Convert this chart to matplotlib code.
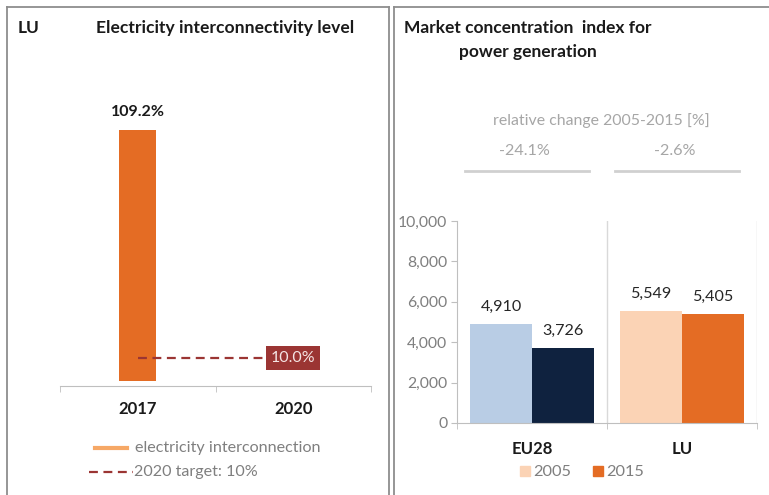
import matplotlib.pyplot as plt
from matplotlib.lines import Line2D
from matplotlib.patches import Rectangle

W, H = 769, 495

# left panel: interconnectivity
years = ["2017", "2020"]
interconnection = [109.2]
target = 10.0

# right panel: market concentration
regions = ["EU28", "LU"]
hhi_2005 = [4910, 5549]
hhi_2015 = [3726, 5405]
yticks = [0, 2000, 4000, 6000, 8000, 10000]

FONT = "Lato"
DARK = "#1A1A1A"
ORANGE = "#E46C24"
LIGHT_ORANGE = "#F6A866"
TARGET_RED = "#9B3533"


def px(x, y):
    return (x / W, 1 - y / H)


plt.rcParams["font.family"] = [FONT, "DejaVu Sans"]

fig = plt.figure(figsize=(W / 100, H / 100), dpi=100)

# panel frames
frame = dict(color="#8E8E8E", lw=1.3)
fig.add_artist(Line2D([7 / W, 7 / W], [0, 1 - 7 / H], **frame))
fig.add_artist(Line2D([7 / W, 389 / W], [1 - 7 / H, 1 - 7 / H], **frame))
fig.add_artist(Line2D([389 / W, 389 / W], [0, 1 - 7 / H], **frame))
fig.add_artist(Line2D([394 / W, 394 / W], [0, 1 - 7 / H], **frame))
fig.add_artist(Line2D([394 / W, 1], [1 - 7 / H, 1 - 7 / H], **frame))

# ---- left chart ----
ppu = 251 / 109.2
ax1 = fig.add_axes([60 / W, 1 - 386 / H, 311 / W, 281 / H])
ax1.set_xlim(-0.5, 1.5)
ax1.set_ylim(-5 / ppu, (381 - 105) / ppu)
ax1.bar([0], interconnection, width=0.24, color=ORANGE, zorder=2)
for i, v in enumerate(interconnection):
    ax1.annotate(f"{v:.1f}%", (i, v), xytext=(0, 8), textcoords="offset points",
                 ha="center", va="bottom", fontsize=11.5, fontweight="bold", color=DARK)
ax1.plot([0, 1], [target, target], color=TARGET_RED, lw=1.6, ls=(0, (4, 2.5)), zorder=3)
ax1.text(1, target, f"{target:.1f}%", ha="center", va="center", fontsize=11.5,
         color="#F4E4E3", zorder=4,
         bbox=dict(boxstyle="square,pad=0.3", fc=TARGET_RED, ec="none"))
for s in ["top", "right", "left"]:
    ax1.spines[s].set_visible(False)
ax1.spines["bottom"].set_color("#BFBFBF")
ax1.set_yticks([])
ax1.set_xticks([0, 1])
ax1.set_xticklabels(years, fontsize=12, fontweight="bold", color=DARK)
ax1.tick_params(axis="x", length=0, pad=11)
ax1.set_xticks([-0.5, 0.5, 1.5], minor=True)
ax1.tick_params(axis="x", which="minor", length=4, color="#BFBFBF", direction="out")

fig.text(*px(18, 28), "LU", fontsize=12.5, fontweight="bold", color=DARK, va="center")
fig.text(*px(96, 28), "Electricity interconnectivity level", fontsize=12.6,
         fontweight="bold", color=DARK, va="center")

# left legend
fig.add_artist(Line2D([95 / W, 127 / W], [1 - 448 / H] * 2, color=LIGHT_ORANGE, lw=3))
fig.text(*px(135, 448), "electricity interconnection", fontsize=11.6, color="#7F7F7F", va="center")
fig.add_artist(Line2D([89 / W, 133 / W], [1 - 472 / H] * 2, color=TARGET_RED, lw=1.6,
                      ls=(0, (4, 2.5))))
fig.text(*px(134, 472), "2020 target: 10%", fontsize=11.6, color="#7F7F7F", va="center")

# ---- right chart ----
ax2 = fig.add_axes([457 / W, 1 - 423 / H, 300 / W, 202 / H])
ax2.set_xlim(-0.5, 1.5)
ax2.set_ylim(0, 10000)
bw = 0.413
xs = list(range(len(regions)))
cols_2005 = ["#B9CDE5", "#FBD3B5"]
cols_2015 = ["#0F223F", ORANGE]
ax2.bar([x - bw / 2 for x in xs], hhi_2005, width=bw, color=cols_2005, zorder=2)
ax2.bar([x + bw / 2 for x in xs], hhi_2015, width=bw, color=cols_2015, zorder=2)
for x, a, b in zip(xs, hhi_2005, hhi_2015):
    ax2.annotate(f"{a:,}", (x - bw / 2, a), xytext=(0, 7), textcoords="offset points",
                 ha="center", va="bottom", fontsize=11.6, color="#262626")
    ax2.annotate(f"{b:,}", (x + bw / 2, b), xytext=(0, 7), textcoords="offset points",
                 ha="center", va="bottom", fontsize=11.6, color="#262626")
for xv in [0.5, 1.5]:
    ax2.axvline(xv, color="#D9D9D9", lw=1, zorder=1)
for s in ["top", "right"]:
    ax2.spines[s].set_visible(False)
ax2.spines["left"].set_color("#BFBFBF")
ax2.spines["bottom"].set_color("#BFBFBF")
ax2.set_yticks(yticks)
ax2.set_yticklabels([f"{t:,}" for t in yticks], fontsize=11.3, color="#7F7F7F")
ax2.tick_params(axis="y", length=4, color="#BFBFBF", pad=3)
ax2.set_xticks(xs)
ax2.set_xticklabels(regions, fontsize=12, fontweight="bold", color=DARK)
ax2.tick_params(axis="x", length=0, pad=13)
ax2.set_xticks([-0.5, 0.5, 1.5], minor=True)
ax2.tick_params(axis="x", which="minor", length=4, color="#BFBFBF")

fig.text(*px(404, 28), "Market concentration  index for", fontsize=12.5,
         fontweight="bold", color=DARK, va="center")
fig.text(*px(459, 52), "power generation", fontsize=12.5, fontweight="bold",
         color=DARK, va="center")

# relative change header
fig.text(*px(601, 121), "relative change 2005-2015 [%]", fontsize=11.4, color="#A6A6A6",
         ha="center", va="center")
changes = [(b - a) / a * 100 for a, b in zip(hhi_2005, hhi_2015)]
for x, c in zip(xs, changes):
    ax2.text(x - 0.05, 1.0 + 70 / 202, f"{c:.1f}%", transform=ax2.get_xaxis_transform(),
             ha="center", va="center", fontsize=11.6, color="#A6A6A6")
    ax2.plot([x - 0.45, x + 0.377], [1.0 + 50 / 202] * 2, transform=ax2.get_xaxis_transform(),
             color="#D0D0D0", lw=2, clip_on=False)

# right legend
for lx, col, lab in [(520, "#FBD3B5", "2005"), (593, ORANGE, "2015")]:
    fig.add_artist(Rectangle(px(lx, 476), 10 / W, 10 / H, color=col))
    fig.text(*px(lx + 13, 472), lab, fontsize=11.8, color="#7F7F7F", va="center")

fig.savefig("out.png", dpi=100)
